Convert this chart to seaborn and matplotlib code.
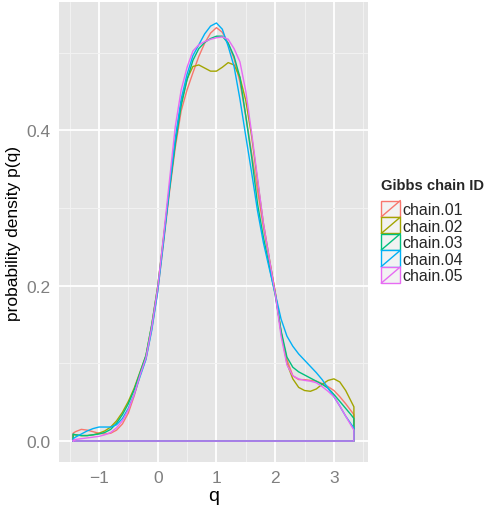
import pandas as pd
import seaborn as sns
import matplotlib
matplotlib.use("Agg")
import matplotlib.pyplot as plt
from matplotlib.lines import Line2D
from matplotlib.patches import Rectangle
from matplotlib.legend_handler import HandlerBase
from matplotlib.ticker import MultipleLocator

# evaluation grid of the density estimates (q)
q_grid = [-1.44, -1.4, -1.3, -1.2, -1.1, -1.0, -0.9, -0.8, -0.7, -0.6, -0.5,
          -0.4, -0.3, -0.2, -0.1, 0.0, 0.1, 0.2, 0.3, 0.4, 0.5, 0.6, 0.7, 0.8,
          0.9, 1.0, 1.1, 1.2, 1.3, 1.4, 1.5, 1.6, 1.7, 1.8, 1.9, 2.0, 2.1, 2.2,
          2.3, 2.4, 2.5, 2.6, 2.7, 2.8, 2.9, 3.0, 3.1, 3.2, 3.3, 3.34]

chain_01 = [.010, .012, .015, .014, .012, .010, .009, .010, .014, .022, .036,
            .058, .085, .106, .145, .193, .255, .320, .378, .425, .452, .474,
            .495, .512, .525, .532, .526, .512, .492, .462, .418, .370, .322,
            .275, .233, .192, .140, .105, .084, .079, .079, .078, .077, .074,
            .070, .065, .057, .048, .038, .034]
chain_02 = [.008, .008, .007, .007, .008, .010, .013, .018, .026, .037, .051,
            .068, .089, .110, .150, .199, .262, .326, .385, .435, .466, .482,
            .484, .480, .476, .476, .481, .487, .484, .468, .438, .392, .335,
            .280, .235, .192, .140, .100, .080, .069, .065, .064, .067, .073,
            .078, .080, .076, .065, .050, .044]
chain_03 = [.009, .008, .007, .007, .008, .009, .011, .015, .023, .034, .048,
            .066, .088, .110, .150, .198, .260, .323, .383, .432, .465, .490,
            .505, .513, .518, .521, .521, .512, .495, .468, .418, .365, .305,
            .262, .225, .188, .142, .108, .095, .089, .085, .081, .077, .073,
            .068, .060, .051, .042, .033, .029]
chain_04 = [.003, .005, .009, .013, .016, .018, .018, .018, .021, .029, .042,
            .060, .083, .105, .143, .192, .257, .326, .390, .440, .472, .496,
            .510, .524, .534, .538, .530, .508, .482, .440, .392, .345, .296,
            .255, .222, .190, .157, .135, .122, .112, .104, .096, .088, .079,
            .068, .057, .045, .032, .021, .017]
chain_05 = [.001, .002, .003, .004, .005, .006, .008, .011, .017, .026, .040,
            .060, .085, .107, .147, .197, .264, .335, .405, .452, .481, .502,
            .510, .514, .517, .519, .520, .517, .505, .488, .450, .396, .338,
            .280, .235, .190, .135, .098, .084, .080, .078, .077, .075, .070,
            .064, .057, .045, .032, .019, .014]

chain_ids = ["chain.01", "chain.02", "chain.03", "chain.04", "chain.05"]
chain_vals = [chain_01, chain_02, chain_03, chain_04, chain_05]
colors = ["#F8766D", "#A3A500", "#00BF7D", "#00B0F6", "#E76BF3"]

# closed outline like geom_density: up from the baseline, along the curve,
# down again and back along zero
rows = []
for cid, vals in zip(chain_ids, chain_vals):
    xs = [q_grid[0]] + q_grid + [q_grid[-1], q_grid[0]]
    ys = [0.0] + vals + [0.0, 0.0]
    for x, y in zip(xs, ys):
        rows.append((cid, x, y))
df = pd.DataFrame(rows, columns=["chain", "q", "density"])

sns.set_theme(style="darkgrid", rc={
    "axes.facecolor": "#E5E5E5",
    "grid.color": "white",
    "xtick.color": "#7F7F7F",
    "ytick.color": "#7F7F7F",
})
plt.rcParams["font.family"] = ["Liberation Sans", "DejaVu Sans"]

fig = plt.figure(figsize=(4.92, 5.06), dpi=100)
ax = fig.add_axes([59 / 492, 1 - 463 / 506, (368 - 59) / 492, (463 - 3) / 506])

sns.lineplot(data=df, x="q", y="density", hue="chain", palette=colors,
             sort=False, estimator=None, legend=False, linewidth=1.0, ax=ax)

ax.set_xlim(-1.68, 3.58)
ax.set_ylim(-0.027, 0.565)
ax.xaxis.set_major_locator(MultipleLocator(1))
ax.xaxis.set_minor_locator(MultipleLocator(0.5))
ax.yaxis.set_minor_locator(MultipleLocator(0.1))
ax.set_yticks([0.0, 0.2, 0.4])
ax.set_yticklabels(["0.0", "0.2", "0.4"])
ax.grid(which="major", color="white", linewidth=1.3)
ax.grid(which="minor", color="#F2F2F2", linewidth=0.7)
ax.tick_params(which="major", length=4, width=1, color="#7F7F7F",
               labelsize=12.5, pad=2, labelcolor="#7F7F7F")
ax.tick_params(which="minor", length=0)
for s in ax.spines.values():
    s.set_visible(False)

ax.set_xlabel("q", fontsize=14, color="black", labelpad=1)
ax.set_ylabel("probability density p(q)", fontsize=12.5, color="black", labelpad=4)


class KeyHandler(HandlerBase):
    def create_artists(self, legend, orig_handle, xdescent, ydescent,
                       width, height, fontsize, trans):
        col = orig_handle.get_color()
        box = Rectangle((-xdescent, -ydescent), width, height,
                        facecolor="#F2F2F2", edgecolor=col, linewidth=1.0,
                        transform=trans)
        diag = Line2D([-xdescent, -xdescent + width],
                      [-ydescent, -ydescent + height],
                      color=col, linewidth=1.0, transform=trans)
        return [box, diag]


handles = [Line2D([], [], color=c) for c in colors]
leg = fig.legend(handles, chain_ids, title="Gibbs chain ID",
                 handler_map={h: KeyHandler() for h in handles},
                 loc="upper left", bbox_to_anchor=(378 / 492, 1 - 176 / 506),
                 frameon=False, fontsize=11.5, title_fontsize=10.6,
                 handlelength=1.2, handleheight=1.2, labelspacing=0.0,
                 handletextpad=0.15, borderaxespad=0, borderpad=0.2)
leg.get_title().set_fontweight("bold")
leg._legend_box.align = "left"
leg._legend_box.sep = 6

fig.savefig("out.png", dpi=100)
